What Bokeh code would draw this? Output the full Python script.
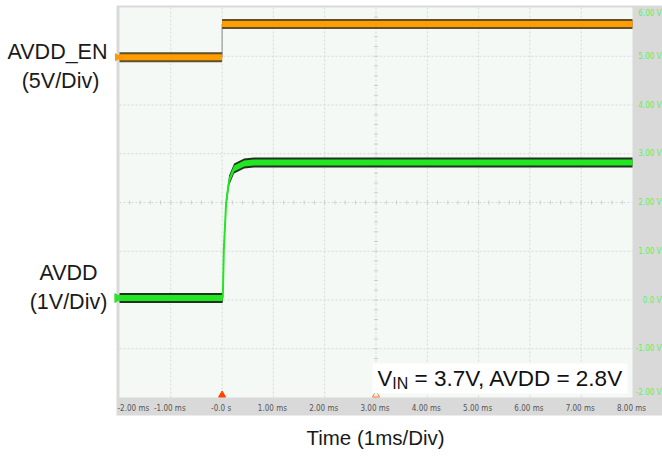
from bokeh.plotting import figure
from bokeh.models import Range1d
from bokeh.core.properties import value
from bokeh.embed import file_html
from bokeh.resources import INLINE

# ---------------- data ----------------
time_ticks = [-2, -1, 0, 1, 2, 3, 4, 5, 6, 7, 8]
time_labels = ["-2.00 ms", "-1.00 ms", "-0.0 s", "1.00 ms", "2.00 ms", "3.00 ms",
               "4.00 ms", "5.00 ms", "6.00 ms", "7.00 ms", "8.00 ms"]
div_ticks = [-2, -1, 0, 1, 2, 3, 4, 5, 6]
div_labels = ["-2.00 V", "-1.00 V", "0.0 V", "1.00 V", "2.00 V", "3.00 V",
              "4.00 V", "5.00 V", "6.00 V"]

# AVDD_EN (orange, 5V/Div) - level in divisions
en_t0 = [-2.0, 0.0]
en_t1 = [0.0, 8.0]
en_level = [4.98, 5.66]

# AVDD (green, 1V/Div)
avdd_t = [-2.0, 0.0, 0.014, 0.033, 0.078, 0.136, 0.234, 0.43, 0.62, 1.0, 8.0]
avdd_v = [0.04, 0.04, 0.05, 1.02, 1.98, 2.45, 2.70, 2.80, 2.82, 2.82, 2.82]

trigger_t = [0.0]
cursor_t = [3.0]

note_parts = ["V", "IN", "= 3.7V, AVDD = 2.8V"]
side_labels = ["AVDD_EN", "(5V/Div)", "AVDD", "(1V/Div)"]
x_title = "Time (1ms/Div)"

# ---------------- layout ----------------
W, H = 662, 456
PX_L, PX_R, PX_T, PX_B = 119, 632, 7, 397     # graticule area (px)
FR_L, FR_R, FR_T, FR_B = 116, 662, 5, 415     # grey scope frame (px)

sx = (PX_R - PX_L) / (time_ticks[-1] - time_ticks[0])
sy = (PX_B - PX_T) / (div_ticks[-1] - div_ticks[0])


def dx(px):
    return time_ticks[0] + (px - PX_L) / sx


def dy(py):
    return div_ticks[-1] - (py - PX_T) / sy


p = figure(width=W, height=H, output_backend="svg", toolbar_location=None,
           x_range=Range1d(dx(0), dx(W)), y_range=Range1d(dy(H), dy(0)),
           min_border_left=0, min_border_right=0, min_border_top=0, min_border_bottom=0,
           x_axis_type=None, y_axis_type=None)
p.outline_line_color = None
p.background_fill_color = "white"
p.border_fill_color = "white"

# grey scope frame
p.quad(left=[dx(FR_L)], right=[dx(FR_R)], bottom=[dy(FR_B)], top=[dy(FR_T)],
       fill_color="#d9d9d9", line_color=None)
# graticule background
p.quad(left=[time_ticks[0]], right=[time_ticks[-1]], bottom=[div_ticks[0]], top=[div_ticks[-1]],
       fill_color="#f4f9f6", line_color=None)

# grid
vx = time_ticks[1:-1]
p.segment(x0=vx, x1=vx, y0=[div_ticks[0]] * len(vx), y1=[div_ticks[-1]] * len(vx),
          line_color="#d6d9d6", line_dash="2 2", line_width=1)
hy = div_ticks[1:-1]
p.segment(x0=[time_ticks[0]] * len(hy), x1=[time_ticks[-1]] * len(hy), y0=hy, y1=hy,
          line_color="#d6d9d6", line_dash="2 2", line_width=1)

# minor ticks on centre lines
cx = time_ticks[len(time_ticks) // 2]
cy = div_ticks[len(div_ticks) // 2]
mx = [time_ticks[0] + i * 0.2 for i in range(1, 50)]
my = [div_ticks[0] + i * 0.2 for i in range(1, 40)]
p.segment(x0=mx, x1=mx, y0=[cy - 2 / sy] * len(mx), y1=[cy + 2 / sy] * len(mx),
          line_color="#cbcfcb", line_width=1)
p.segment(x0=[cx - 2 / sx] * len(my), x1=[cx + 2 / sx] * len(my), y0=my, y1=my,
          line_color="#cbcfcb", line_width=1)

# AVDD_EN trace (orange)
p.segment(x0=[en_t1[0]], x1=[en_t1[0]], y0=[en_level[0]], y1=[en_level[1]],
          line_color="#8a8a8a", line_width=1)
p.segment(x0=en_t0, x1=en_t1, y0=en_level, y1=en_level,
          line_color="#4f3c14", line_width=10, line_cap="butt", line_alpha=0.9)
p.segment(x0=en_t0, x1=en_t1, y0=en_level, y1=en_level,
          line_color="#ff9c00", line_width=6, line_cap="butt")

# AVDD trace (green)
h_out = 5.0 / sy
h_in = 3.0 / sy
p.varea(x=avdd_t, y1=[v - h_out for v in avdd_v], y2=[v + h_out for v in avdd_v],
        fill_color="#1f331f")
p.varea(x=avdd_t, y1=[v - h_in for v in avdd_v], y2=[v + h_in for v in avdd_v],
        fill_color="#22e622")
p.line(avdd_t, avdd_v, line_color="#22e622", line_width=2)

# channel / trigger markers
p.scatter(x=[dx(117)], y=[en_level[0]], marker="triangle", angle=-1.5708, size=7,
          fill_color="#ff9900", line_color="#ff9900")
p.scatter(x=[dx(117)], y=[avdd_v[0]], marker="triangle", angle=-1.5708, size=9,
          fill_color="#30e030", line_color="#30e030")
p.scatter(x=trigger_t, y=[div_ticks[0] + 2.5 / sy], marker="triangle", size=7,
          fill_color="#ff4400", line_color="#ff4400")
p.scatter(x=cursor_t, y=[div_ticks[0] + 2.5 / sy], marker="triangle", size=7,
          fill_color=None, line_color="#ff7733", line_width=1)

# scope tick labels
small_font = value("DejaVu Sans Condensed")
p.text(x=[time_ticks[0]], y=[dy(408)], text=[time_labels[0]], text_align="left",
       text_baseline="middle", text_font=small_font, text_font_size="8px", text_color="#555555",
       x_offset=-2)
p.text(x=time_ticks[1:], y=[dy(408)] * (len(time_ticks) - 1), text=time_labels[1:],
       text_align="center", text_baseline="middle", text_font=small_font,
       text_font_size="8px", text_color="#555555", x_offset=-1)
p.text(x=[dx(661)] * (len(div_ticks) - 2), y=div_ticks[1:-1], text=div_labels[1:-1],
       text_align="right", text_baseline="middle", text_font=small_font,
       text_font_size="8px", text_color="#5cf05c")
p.text(x=[dx(661)], y=[div_ticks[-1]], text=[div_labels[-1]], text_align="right",
       text_baseline="top", text_font=small_font, text_font_size="8px", text_color="#5cf05c",
       y_offset=1)
p.text(x=[dx(661)], y=[div_ticks[0]], text=[div_labels[0]], text_align="right",
       text_baseline="bottom", text_font=small_font, text_font_size="8px", text_color="#5cf05c",
       y_offset=-1)

# note box
p.quad(left=[dx(372)], right=[dx(627)], bottom=[dy(393)], top=[dy(363)],
       fill_color="white", line_color=None)
big = value("Liberation Sans")
p.text(x=[dx(377)], y=[dy(378)], text=[note_parts[0]], text_align="left",
       text_baseline="alphabetic", text_font=big, text_font_size="22px", text_color="#111111")
p.text(x=[dx(377)], y=[dy(378)], text=[note_parts[1]], text_align="left",
       text_baseline="alphabetic", text_font=big, text_font_size="16px", text_color="#111111",
       x_offset=14.7, y_offset=5)
p.text(x=[dx(377)], y=[dy(378)], text=[note_parts[2]], text_align="left",
       text_baseline="alphabetic", text_font=big, text_font_size="22.5px", text_color="#111111",
       x_offset=37)

# outside labels
p.text(x=[dx(57), dx(60), dx(68), dx(68)], y=[dy(51), dy(80), dy(272), dy(301)],
       text=side_labels, text_align="center", text_baseline="middle", text_font=big,
       text_font_size="21.5px", text_color="#1a1a1a")
p.text(x=[dx(375)], y=[dy(437)], text=[x_title], text_align="center",
       text_baseline="middle", text_font=big, text_font_size="20.5px", text_color="#1a1a1a")

open("out.html", "w").write(file_html(p, INLINE))
